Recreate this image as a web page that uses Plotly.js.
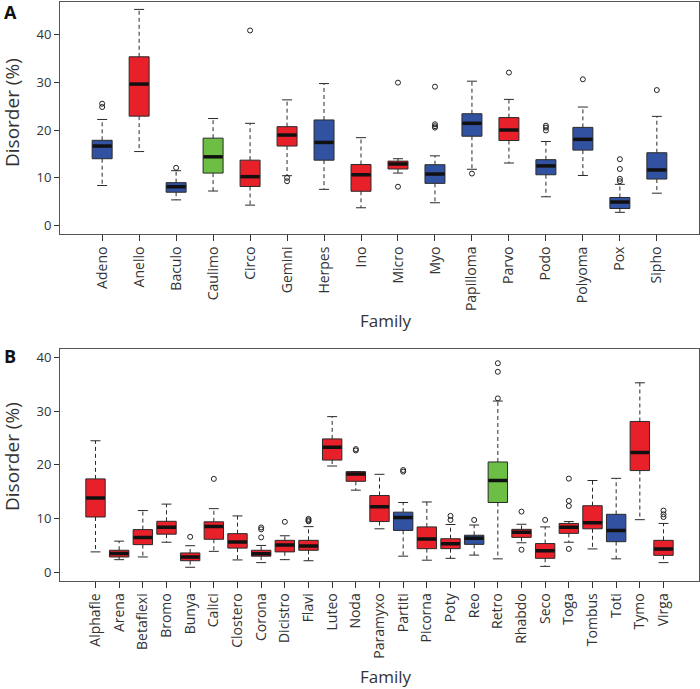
<!DOCTYPE html>
<html>
<head>
<meta charset="utf-8">
<script src="https://cdn.plot.ly/plotly-3.0.1.min.js"></script>
<style>
html,body{margin:0;padding:0;background:#fff;}
#chart{width:700px;height:689px;}
</style>
</head>
<body>
<div id="chart"></div>
<script>
// ---------- Panel A data ----------
const famA = ["Adeno","Anello","Baculo","Caulimo","Circo","Gemini","Herpes","Ino","Micro","Myo","Papilloma","Parvo","Podo","Polyoma","Pox","Sipho"];
const groupA = ["blue","red","blue","green","red","red","blue","red","red","blue","blue","red","blue","blue","blue","blue"];
const lowA = [8.4,15.5,5.4,7.25,4.3,10.45,7.6,3.75,11.0,4.8,11.8,13.1,6.05,10.5,2.8,6.8];
const q1A  = [14.0,22.9,7.0,11.0,8.2,16.65,13.7,7.2,11.85,8.85,18.7,17.8,10.65,15.8,3.6,9.75];
const medA = [16.65,29.6,8.15,14.4,10.25,18.95,17.4,10.65,12.9,10.8,21.4,20.0,12.5,18.05,4.95,11.65];
const q3A  = [17.85,35.3,9.0,18.3,13.7,20.7,22.1,12.8,13.5,12.75,23.4,22.6,13.8,20.55,5.9,15.25];
const upA  = [22.2,45.2,11.5,22.4,21.4,26.3,29.7,18.4,14.0,14.6,30.2,26.4,17.6,24.8,8.65,22.85];
const outA = [[24.8,25.5],[],[12.1],[],[40.8],[10.0,9.3],[],[],[29.9,8.15],[20.5,20.8,21.2,29.05],[10.9],[32.0],[19.9,20.5,20.9],[30.6],[13.9,11.85,9.8,9.3],[28.35]];

// ---------- Panel B data ----------
const famB = ["Alphafle","Arena","Betaflexi","Bromo","Bunya","Calici","Clostero","Corona","Dicistro","Flavi","Luteo","Noda","Paramyxo","Partiti","Picorna","Poty","Reo","Retro","Rhabdo","Seco","Toga","Tombus","Toti","Tymo","Virga"];
const groupB = ["red","red","red","red","red","red","red","red","red","red","red","red","red","blue","red","red","blue","green","red","red","red","red","blue","red","red"];
const lowB = [3.8,2.35,2.85,5.6,0.93,3.9,2.3,1.8,2.35,2.15,19.8,15.3,8.1,3.0,2.25,2.6,3.2,2.5,5.5,1.1,5.6,4.35,2.5,9.8,1.8];
const q1B  = [10.3,2.85,5.15,7.1,2.15,6.15,4.5,3.0,3.8,4.1,20.9,16.95,9.45,7.8,4.4,4.4,5.2,13.0,6.5,2.6,7.25,8.1,5.7,18.95,3.15];
const medB = [13.85,3.5,6.5,8.4,2.85,8.55,5.65,3.45,5.1,4.9,23.3,18.3,12.2,10.2,6.2,5.3,6.35,17.1,7.45,4.0,8.4,9.25,7.8,22.3,4.35];
const q3B  = [17.4,4.1,7.95,9.5,3.6,9.4,7.2,4.1,5.95,5.95,24.85,18.75,14.3,11.2,8.45,6.25,6.9,20.55,8.0,5.35,9.1,12.4,10.8,28.1,5.95];
const upB  = [24.5,5.8,11.5,12.7,4.95,11.85,10.5,5.0,6.8,8.5,29.0,18.75,18.25,13.0,13.1,8.9,8.8,31.9,8.95,8.45,9.45,17.1,17.5,35.3,9.1];
const outB = [[],[],[],[],[6.6],[17.4],[],[8.0,8.35,6.5],[9.4],[9.5,9.7,9.95],[],[22.7,22.95],[],[18.75,19.05],[],[9.75,10.5],[9.75],[32.4,37.35,38.95],[11.3,4.2],[9.75],[17.45,13.3,12.35,4.35],[],[],[],[10.3,10.8,11.5]];

const yTicks = [0,10,20,30,40];

const COLORS = {red:"#e8202a", blue:"#3151a1", green:"#6cbf44"};
const FONT = "Open Sans, DejaVu Sans, sans-serif";
const EDGE = "#2a2a2a";

function panelTraces(fam, grp, low, q1, med, q3, up, out, xa, ya, boxW, capW) {
  const traces = [];
  const idx = fam.map((_, i) => i);
  ["red","blue","green"].forEach(g => {
    const ii = idx.filter(i => grp[i] === g);
    if (!ii.length) return;
    traces.push({
      type: "box", xaxis: xa, yaxis: ya,
      x: ii, q1: ii.map(i => q1[i]), median: ii.map(i => med[i]), q3: ii.map(i => q3[i]),
      lowerfence: ii.map(i => q1[i]), upperfence: ii.map(i => q3[i]),
      width: boxW, fillcolor: COLORS[g], line: {color: EDGE, width: 1},
      whiskerwidth: 0, boxpoints: false, hoverinfo: "skip", showlegend: false
    });
  });
  const wx = [], wy = [];
  idx.forEach(i => { wx.push(i, i, null, i, i, null); wy.push(q3[i], up[i], null, q1[i], low[i], null); });
  traces.push({type: "scatter", mode: "lines", xaxis: xa, yaxis: ya, x: wx, y: wy,
    line: {color: EDGE, width: 1, dash: "4px,3px"}, hoverinfo: "skip", showlegend: false});
  const cx = [], cy = [];
  idx.forEach(i => { cx.push(i - capW/2, i + capW/2, null, i - capW/2, i + capW/2, null); cy.push(up[i], up[i], null, low[i], low[i], null); });
  traces.push({type: "scatter", mode: "lines", xaxis: xa, yaxis: ya, x: cx, y: cy,
    line: {color: EDGE, width: 1}, hoverinfo: "skip", showlegend: false});
  const mx = [], my = [];
  idx.forEach(i => { mx.push(i - boxW/2 + 0.01, i + boxW/2 - 0.01, null); my.push(med[i], med[i], null); });
  traces.push({type: "scatter", mode: "lines", xaxis: xa, yaxis: ya, x: mx, y: my,
    line: {color: "#111", width: 3.5}, hoverinfo: "skip", showlegend: false});
  const ox = [], oy = [];
  idx.forEach(i => out[i].forEach(v => { ox.push(i); oy.push(v); }));
  traces.push({type: "scatter", mode: "markers", xaxis: xa, yaxis: ya, x: ox, y: oy,
    marker: {symbol: "circle-open", size: 5, color: "#222", line: {width: 1}}, hoverinfo: "skip", showlegend: false});
  return traces;
}

const data = [].concat(
  panelTraces(famA, groupA, lowA, q1A, medA, q3A, upA, outA, "x", "y", 0.54, 0.27),
  panelTraces(famB, groupB, lowB, q1B, medB, q3B, upB, outB, "x2", "y2", 0.82, 0.42)
);

const H = 689;
function xAxis(fam, anchor, range) {
  return {
    anchor: anchor, domain: [60/700, 699/700], range: range,
    tickmode: "array", tickvals: fam.map((_, i) => i), ticktext: fam,
    tickangle: -90, ticks: "outside", ticklen: 6, tickcolor: "#333",
    showline: true, mirror: true, linecolor: "#555", linewidth: 1,
    showgrid: false, zeroline: false,
    tickfont: {family: FONT, size: 14, color: "#333"}
  };
}
function yAxis(anchor, domain, range) {
  return {
    anchor: anchor, domain: domain, range: range,
    tickmode: "array", tickvals: yTicks, ticktext: yTicks.map(String),
    ticks: "outside", ticklen: 5, tickcolor: "#333",
    showline: true, mirror: true, linecolor: "#555", linewidth: 1,
    showgrid: false, zeroline: false,
    tickfont: {family: FONT, size: 13, color: "#333"}
  };
}

const layout = {
  width: 700, height: 689,
  margin: {l: 0, r: 0, t: 0, b: 0},
  paper_bgcolor: "#fff", plot_bgcolor: "#fff",
  boxmode: "overlay", showlegend: false,
  xaxis: xAxis(famA, "y", [-1.14, 16.14]),
  yaxis: yAxis("x", [1 - 234/H, 1 - 2/H], [-1.73, 46.75]),
  xaxis2: xAxis(famB, "y2", [-1.5, 25.5]),
  yaxis2: yAxis("x2", [1 - 580.7/H, 1 - 349/H], [-1.57, 41.6]),
  annotations: [
    {text: "<b>A</b>", xref: "paper", yref: "paper", x: 10/700, y: 1 - 12/H, xanchor: "center", yanchor: "middle", showarrow: false, font: {family: FONT, size: 18, color: "#111"}},
    {text: "<b>B</b>", xref: "paper", yref: "paper", x: 10/700, y: 1 - 356/H, xanchor: "center", yanchor: "middle", showarrow: false, font: {family: FONT, size: 18, color: "#111"}},
    {text: "Disorder (%)", xref: "paper", yref: "paper", x: 12/700, y: 1 - 113/H, xanchor: "center", yanchor: "middle", textangle: -90, showarrow: false, font: {family: FONT, size: 19, color: "#333"}},
    {text: "Disorder (%)", xref: "paper", yref: "paper", x: 12/700, y: 1 - 457/H, xanchor: "center", yanchor: "middle", textangle: -90, showarrow: false, font: {family: FONT, size: 19, color: "#333"}},
    {text: "Family", xref: "paper", yref: "paper", x: 386/700, y: 1 - 320/H, xanchor: "center", yanchor: "middle", showarrow: false, font: {family: FONT, size: 17, color: "#333"}},
    {text: "Family", xref: "paper", yref: "paper", x: 386/700, y: 1 - 676/H, xanchor: "center", yanchor: "middle", showarrow: false, font: {family: FONT, size: 17, color: "#333"}}
  ]
};

Plotly.newPlot("chart", data, layout, {staticPlot: true, displayModeBar: false});
</script>
</body>
</html>
